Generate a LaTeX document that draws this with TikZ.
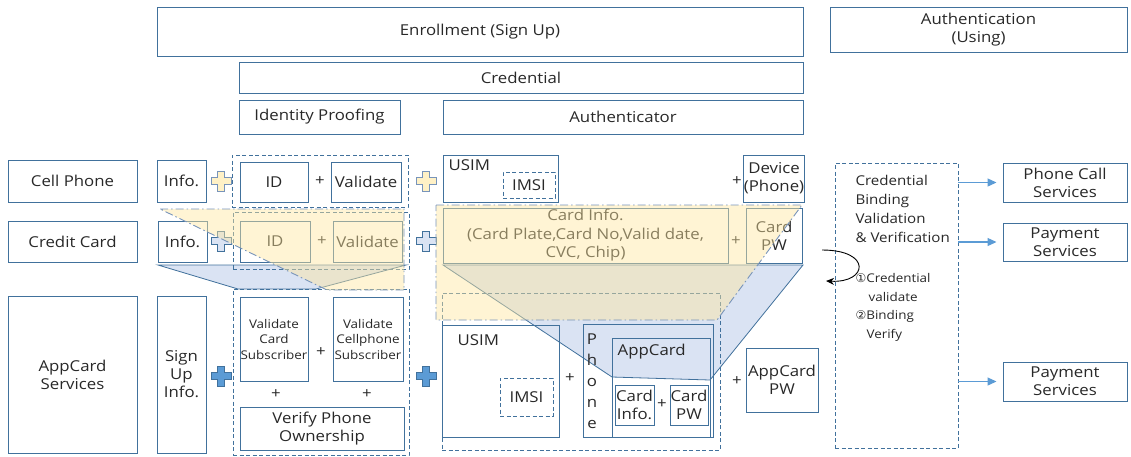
\documentclass[tikz,border=0pt]{standalone}
\usepackage{fontspec}
\setmainfont{Open Sans}[FakeStretch=1.12]
\newfontfamily\symfont{DejaVu Sans}
\usetikzlibrary{arrows.meta}

\definecolor{boxline}{RGB}{65,113,156}
\definecolor{arrowblue}{RGB}{91,155,213}
\definecolor{funyellow}{RGB}{255,231,160}
\definecolor{funblue}{RGB}{218,227,243}
\definecolor{dashdot}{RGB}{120,148,186}
\definecolor{txt}{RGB}{40,40,40}

\tikzset{
  box/.style={draw=boxline, line width=1pt, inner sep=0pt, text=txt,
    font=\fontsize{15}{18}\selectfont, align=center},
  grp/.style={draw=boxline, line width=0.9pt, dash pattern=on 4pt off 2.5pt},
  small/.style={font=\fontsize{12}{15.5}\selectfont},
  plustxt/.style={text=txt, font=\fontsize{15}{18}\selectfont},
  svcarrow/.style={draw=arrowblue, line width=1.2pt, shorten >=6pt,
    -{Triangle[length=9pt,width=8pt]}},
  pics/plusmark/.style={code={
    \draw[pic actions] (-10,-3.5) -- (-3.5,-3.5) -- (-3.5,-10) -- (3.5,-10)
      -- (3.5,-3.5) -- (10,-3.5) -- (10,3.5) -- (3.5,3.5) -- (3.5,10)
      -- (-3.5,10) -- (-3.5,3.5) -- (-10,3.5) -- cycle;}}
}

\begin{document}
\begin{tikzpicture}[x=1pt,y=-1pt]
\useasboundingbox (0,0) rectangle (1131,456);

% blue funnels (behind the boxes)
\filldraw[fill=funblue, draw=boxline, line width=0.8pt]
  (158,265) -- (406,265) -- (316,289) -- (238,289) -- cycle;
\filldraw[fill=funblue, draw=boxline, line width=0.8pt]
  (443,265) -- (803,265) -- (710,380) -- (612,377) -- cycle;

% header
\node[box, minimum width=646, minimum height=49] (enroll) at (480,31.5) {Enrollment (Sign Up)};
\node[box, minimum width=297, minimum height=45] (authn) at (978.5,29.5) {Authentication\\(Using)};
\node[box, minimum width=564, minimum height=31] (cred) at (521,77.5) {Credential};
\node[box, minimum width=161, minimum height=34] (idproof) at (319.5,117) {Identity Proofing};
\node[box, minimum width=360, minimum height=34] (authr) at (623,117) {Authenticator};

% cell phone row
\node[box, minimum width=129, minimum height=42] (cell) at (72.5,181) {Cell Phone};
\node[box, minimum width=49, minimum height=42] (info1) at (181.5,181) {Info.};
\node[grp, minimum width=176, minimum height=52] (grp1) at (320,181) {};
\node[box, minimum width=68, minimum height=40] (id1) at (274,182) {ID};
\node[plustxt] at (320,181) {+};
\node[box, minimum width=70, minimum height=40] (val1) at (366,182) {Validate};
\node[box, minimum width=115, minimum height=47,
  label={[anchor=north west, inner sep=0pt, plustxt, xshift=6pt, yshift=-5pt]north west:USIM}] (usim1) at (500.5,178.5) {};
\node[grp, minimum width=52, minimum height=26, text=txt, font=\fontsize{15}{18}\selectfont] (imsi1) at (529,185) {IMSI};
\node[plustxt] at (737,181) {+};
\node[box, minimum width=58, minimum height=47] (dev1) at (774,178.5) {Device\\(Phone)};
\pic[draw=dashdot, fill=funyellow!60, line width=0.8pt] at (221,181) {plusmark};
\pic[draw=dashdot, fill=funyellow!60, line width=0.8pt] at (426,181) {plusmark};

% credit card row
\node[box, minimum width=129, minimum height=41] (card) at (72.5,241.5) {Credit Card};
\node[box, minimum width=49, minimum height=41] (info2) at (182.5,241.5) {Info.};
\node[grp, minimum width=176, minimum height=57] (grp2) at (321,240.5) {};
\node[box, minimum width=70, minimum height=41] (id2) at (275,241.5) {ID};
\node[plustxt] at (322,241) {+};
\node[box, minimum width=69, minimum height=41] (val2) at (367.5,241.5) {Validate};
\node[box, minimum width=285, minimum height=55, font=\fontsize{15}{18.5}\selectfont] (cinfo) at (585.5,235.5)
  {Card Info.\\(Card Plate,Card No,Valid date,\\CVC, Chip)};
\node[plustxt] at (736,241) {+};
\node[box, minimum width=56, minimum height=55] (cpw) at (774,235.5) {Card\\PW};
\pic[draw=boxline, fill=funblue, line width=0.8pt] at (221,241) {plusmark};
\pic[draw=boxline, fill=funblue, line width=0.8pt] at (426,241) {plusmark};

% appcard row
\node[box, minimum width=129, minimum height=157] (app) at (72.5,374.5) {AppCard\\Services};
\node[box, minimum width=49, minimum height=157] (signup) at (181.5,374.5) {Sign\\Up\\Info.};
\node[grp, minimum width=176, minimum height=166] (grp3) at (321,372) {};
\node[box, small, minimum width=68, minimum height=84] (vcard) at (274,339) {Validate\\Card\\Subscriber};
\node[plustxt] at (321,352) {+};
\node[box, small, minimum width=70, minimum height=84] (vcell) at (368,339) {Validate\\Cellphone\\Subscriber};
\node[plustxt] at (276,394) {+};
\node[plustxt] at (367,394) {+};
\node[box, minimum width=164, minimum height=43] (vphone) at (322,428.5) {Verify Phone\\Ownership};
\node[grp, minimum width=278, minimum height=157] (grp4) at (581,371.5) {};
\node[box, minimum width=117, minimum height=112,
  label={[anchor=north west, inner sep=0pt, plustxt, xshift=16pt, yshift=-10pt]north west:USIM}] (usim3) at (500.5,381) {};
\node[grp, minimum width=53, minimum height=38, text=txt, font=\fontsize{15}{18}\selectfont] (imsi3) at (526.5,397) {IMSI};
\node[plustxt] at (570,378) {+};
\node[box, minimum width=130, minimum height=113] (phone) at (648,380.5) {};
\node[text=txt, font=\fontsize{15}{21}\selectfont, align=center] (phonetxt) at (592,381) {P\\h\\o\\n\\e};
\node[box, minimum width=98, minimum height=99,
  label={[anchor=north west, inner sep=0pt, plustxt, xshift=6pt, yshift=-6pt]north west:AppCard}] (appc) at (661,387.5) {};
\node[box, minimum width=39, minimum height=40] (cinfo3) at (634.5,405) {Card\\Info.};
\node[plustxt] at (662,404) {+};
\node[box, minimum width=38, minimum height=40] (cpw3) at (689,405) {Card\\PW};
\node[plustxt] at (737,381) {+};
\node[box, minimum width=72, minimum height=64] (apw) at (782,380) {AppCard\\PW};
\pic[draw=boxline, fill=arrowblue, line width=0.8pt] at (221,376) {plusmark};
\pic[draw=boxline, fill=arrowblue, line width=0.8pt] at (426,376) {plusmark};

% yellow funnels (over the boxes)
\fill[funyellow, fill opacity=0.45] (160,209) -- (404,209) -- (404,290) -- (327,290) -- cycle;
\draw[dashdot, line width=0.9pt, dash pattern=on 8pt off 3pt on 1.5pt off 3pt]
  (160,209) -- (404,209) -- (404,290) -- (327,290) -- cycle;
\fill[funyellow, fill opacity=0.45] (436,205) -- (802,205) -- (717,320) -- (436,320) -- cycle;
\draw[dashdot, line width=0.9pt, dash pattern=on 8pt off 3pt on 1.5pt off 3pt]
  (436,205) -- (802,205) -- (717,320) -- (436,320) -- cycle;

% authentication side
\node[grp, minimum width=123, minimum height=285] (bind) at (896.5,305.5) {};
\node[anchor=north west, align=left, text=txt, font=\fontsize{13.5}{19}\selectfont] (bindtxt) at (852,172)
  {Credential\\Binding\\Validation\\\& Verification};
\node[anchor=north west, align=left, text=txt, font=\fontsize{12}{18.5}\selectfont] (steps) at (852,270)
  {{\symfont ①}Credential\\\hspace*{13pt}validate\\{\symfont ②}Binding\\\hspace*{11pt}Verify};
\node[box, minimum width=124, minimum height=39] (svc1) at (1065,182.5) {Phone Call\\Services};
\node[box, minimum width=124, minimum height=38] (svc2) at (1065,242) {Payment\\Services};
\node[box, minimum width=124, minimum height=39] (svc3) at (1065,381.5) {Payment\\Services};
\draw[svcarrow] (bind.east |- svc1.west) -- (svc1.west);
\draw[svcarrow] (bind.east |- svc2.west) -- (svc2.west);
\draw[svcarrow] (bind.east |- svc3.west) -- (svc3.west);

\coordinate (loopin) at (822,250);
\coordinate (loopout) at (826,281);
\draw[line width=0.9pt, -{Stealth[length=8pt,width=7pt]}] (loopin) .. controls (872,250) and (868,283) .. (loopout);

\end{tikzpicture}
\end{document}
